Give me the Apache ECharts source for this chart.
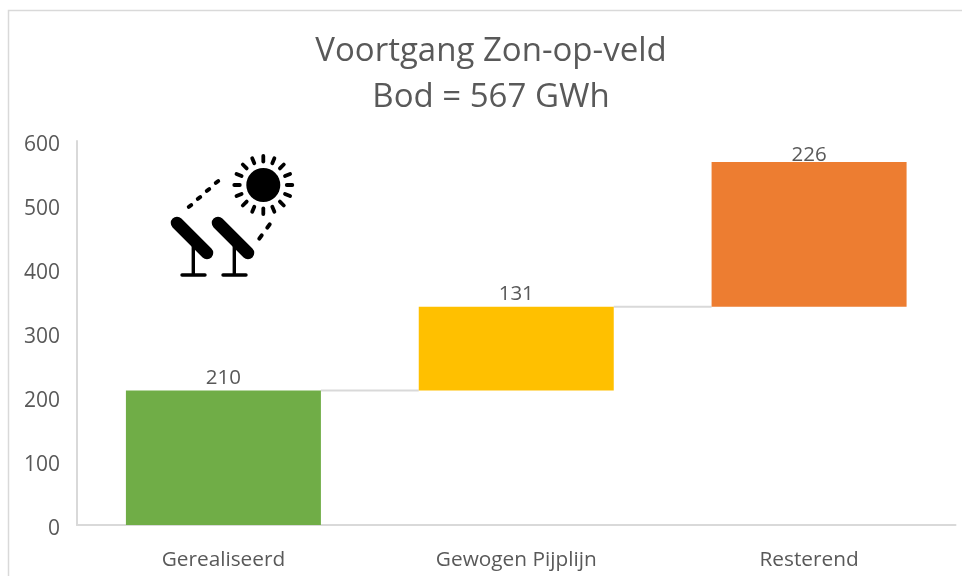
<!DOCTYPE html>
<html><head><meta charset="utf-8">
<style>html,body{margin:0;padding:0;background:#fff}#c{width:962px;height:576px}</style>
<script src="https://cdn.jsdelivr.net/npm/echarts@6/dist/echarts.min.js"></script>
</head><body><div id="c"></div>
<script>
const categories = ['Gerealiseerd', 'Gewogen Pijplijn', 'Resterend'];
const values = [210, 131, 226];
const barColors = ['#70AD47', '#FFC000', '#ED7D31'];
const titleText = 'Voortgang Zon-op-veld\nBod = 567 GWh';
const yTicks = {min: 0, max: 600, interval: 100};

const bases = [];
values.reduce((s, v, i) => { bases[i] = s; return s + v; }, 0);
const connectors = values.slice(0, -1).map((v, i) => [i, bases[i] + v]);

const FONT = '"Open Sans","Noto Sans",sans-serif';
const BAR_W = 195;
const chart = echarts.init(document.getElementById('c'), null, {renderer: 'canvas'});

// Solar panel icon, decoration in pixel space
function icon() {
  const cx = 263.3, cy = 185, kids = [];
  const ink = {stroke: '#000', lineCap: 'round'};
  const seg = (x1, y1, x2, y2, w) => ({type: 'line', shape: {x1, y1, x2, y2}, style: {...ink, lineWidth: w}, silent: true});
  kids.push({type: 'circle', shape: {cx, cy, r: 17}, style: {fill: '#000'}, silent: true});
  for (let i = 0; i < 16; i++) {
    const a = i * Math.PI / 8;
    kids.push(seg(cx + 23.5 * Math.cos(a), cy + 23.5 * Math.sin(a), cx + 29 * Math.cos(a), cy + 29 * Math.sin(a), 3.8));
  }
  [[190, 206], [199, 198], [208, 190], [217, 182]].forEach(p => kids.push(seg(p[0] - 1.2, p[1] + 0.8, p[0] + 1.2, p[1] - 0.8, 4)));
  [[260.5, 237], [268.5, 226]].forEach(p => kids.push(seg(p[0] - 1.2, p[1] + 1.7, p[0] + 1.2, p[1] - 1.7, 4)));
  [0, 41].forEach(dx => {
    kids.push(seg(177 + dx, 223, 207 + dx, 253, 12.5));
    kids.push({type: 'line', shape: {x1: 193.3 + dx, y1: 245, x2: 193.3 + dx, y2: 275}, style: {stroke: '#000', lineWidth: 3.4}, silent: true});
    kids.push(seg(182 + dx, 275, 205 + dx, 275, 3.4));
  });
  return kids;
}

const labelBase = {show: true, position: 'top', fontFamily: FONT, fontSize: 20.5, color: '#595959'};

chart.setOption({
  animation: false,
  backgroundColor: '#fff',
  title: {
    text: titleText, left: 486, top: 24, textAlign: 'center',
    textStyle: {fontFamily: FONT, fontSize: 33, fontWeight: 'normal', color: '#595959', lineHeight: 46}
  },
  grid: {left: 77, right: 6.5, top: 141, bottom: 51, containLabel: false},
  xAxis: {
    type: 'category', data: categories,
    axisLine: {lineStyle: {color: '#d9d9d9', width: 2}},
    axisTick: {show: false},
    axisLabel: {fontFamily: FONT, fontSize: 20.8, color: '#595959', margin: 25}
  },
  yAxis: {
    type: 'value', min: yTicks.min, max: yTicks.max, interval: yTicks.interval,
    axisLine: {show: true, lineStyle: {color: '#d9d9d9', width: 2}},
    axisTick: {show: false},
    splitLine: {show: false},
    axisLabel: {
      formatter: '{a|{value}}', margin: 17,
      rich: {a: {fontFamily: FONT, fontSize: 21, color: '#595959', padding: [8, 0, 0, 0]}}
    }
  },
  series: [
    {type: 'bar', stack: 'w', data: bases, barWidth: BAR_W, itemStyle: {color: 'transparent'}, silent: true},
    {type: 'bar', stack: 'w',
      data: values.map((v, i) => ({
        value: v,
        itemStyle: {color: barColors[i]},
        label: {...labelBase, distance: i === values.length - 1 ? -4 : 2}
      })),
      barWidth: BAR_W,
      label: labelBase},
    {type: 'custom', data: connectors, z: 1, silent: true,
      renderItem(params, api) {
        const i = api.value(0), lvl = api.value(1);
        const a = api.coord([i, lvl]), b = api.coord([i + 1, lvl]);
        return {type: 'line', shape: {x1: a[0] + BAR_W / 2, y1: a[1], x2: b[0] - BAR_W / 2, y2: b[1]}, style: {stroke: '#d9d9d9', lineWidth: 2}};
      }}
  ],
  graphic: [
    {type: 'polyline', shape: {points: [[8.5, 576], [8.5, 10.5], [962, 10.5]]}, style: {stroke: '#d9d9d9', lineWidth: 1.5, fill: null}, silent: true},
    {type: 'group', children: icon(), silent: true}
  ]
});
</script></body></html>
